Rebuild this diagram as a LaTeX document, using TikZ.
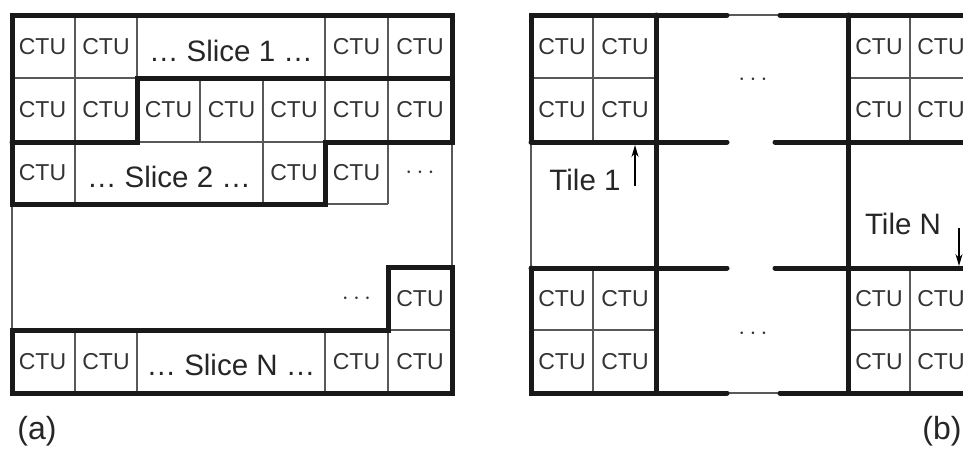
\documentclass[tikz,border=0pt]{standalone}
\usepackage{fontspec}
\setmainfont{Liberation Sans}
\usetikzlibrary{arrows.meta}

\begin{document}
\begin{tikzpicture}[>={Stealth[length=12pt, width=7pt]}, x=1pt, y=-1pt,
    cell/.style={line width=1.2pt, black!65},
    bound/.style={line width=5pt, line cap=round, black!90},
    ctu/.style={inner sep=0pt, text=black!80, font=\fontsize{23}{25}\selectfont},
    bigtext/.style={inner sep=0pt, text=black!85, font=\fontsize{29.5}{31}\selectfont},
    more/.style={inner sep=0pt, text=black!80, font=\fontsize{24}{26}\selectfont},
    panel/.style={inner sep=0pt, text=black!85, font=\fontsize{32}{34}\selectfont}]
    \useasboundingbox (0, 0) rectangle (963, 453);
    \clip (0, 0) rectangle (963, 453);

    % (a) slices
    \draw[cell] (75, 15) -- (75, 204) (137, 15) -- (137, 78) (200, 78) -- (200, 142)
        (263, 78) -- (263, 204) (325, 15) -- (325, 142) (388, 15) -- (388, 204);
    \draw[cell] (12, 78) -- (137, 78) (137, 142) -- (325, 142) (325, 204) -- (388, 204);
    \draw[cell] (12, 204) -- (12, 330) (452, 142) -- (452, 267) (388, 330) -- (452, 330);
    \draw[cell] (75, 330) -- (75, 393) (137, 330) -- (137, 393) (325, 330) -- (325, 393) (388, 330) -- (388, 393);
    \draw[bound] (12, 142) -- (12, 15) -- (452, 15) -- (452, 142) -- (325, 142) -- (325, 204) -- (12, 204) -- cycle;
    \draw[bound] (12, 142) -- (137, 142) -- (137, 78) -- (452, 78);
    \draw[bound] (12, 330) -- (388, 330) -- (388, 267) -- (452, 267) -- (452, 393) -- (12, 393) -- cycle;

    \foreach \x/\n in {42.5/1, 106/2, 356.5/6, 420/7}
        \node[ctu] (ra\n) at (\x, 47) {CTU};
    \node[bigtext] (slice1) at (231, 51) {… Slice 1 …};
    \foreach \x/\n in {42.5/1, 106/2, 168.5/3, 231.5/4, 294/5, 356.5/6, 420/7}
        \node[ctu] (rb\n) at (\x, 110) {CTU};
    \foreach \x/\n in {42.5/1, 294/5, 356.5/6}
        \node[ctu] (rc\n) at (\x, 173) {CTU};
    \node[bigtext] (slice2) at (169, 177) {… Slice 2 …};
    \node[more] (rcmore) at (420, 173) {$\cdots$};
    \node[more] (rdmore) at (356.5, 298.5) {$\cdots$};
    \node[ctu] (rd7) at (420, 298.5) {CTU};
    \foreach \x/\n in {42.5/1, 106/2, 356.5/6, 420/7}
        \node[ctu] (re\n) at (\x, 362) {CTU};
    \node[bigtext] (sliceN) at (231, 365) {… Slice N …};
    \node[panel] (pa) at (37, 431) {(a)};

    % (b) tiles
    \draw[cell] (593, 15) -- (593, 142) (593, 268) -- (593, 393) (910, 15) -- (910, 142) (910, 268) -- (910, 393);
    \draw[cell] (531, 78) -- (656, 78) (848, 78) -- (975, 78) (531, 330) -- (656, 330) (848, 330) -- (975, 330);
    \draw[cell] (531, 142) -- (531, 268) (727, 15) -- (780, 15) (727, 393) -- (780, 393);
    \draw[bound] (531, 142) -- (531, 15) -- (727, 15) (780, 15) -- (985, 15);
    \draw[bound] (531, 142) -- (727, 142) (775, 142) -- (985, 142);
    \draw[bound] (531, 268) -- (727, 268) (775, 268) -- (985, 268);
    \draw[bound] (531, 268) -- (531, 393) -- (727, 393) (780, 393) -- (985, 393);
    \draw[bound] (656, 15) -- (656, 393) (848, 15) -- (848, 393);

    \foreach \y/\m in {47/1, 110/2, 299/3, 362/4}
        \foreach \x/\n in {562/1, 625/2, 879/3, 941/4}
            \node[ctu] (t\m\n) at (\x, \y) {CTU};
    \node[more] (tmoreup) at (753, 80) {$\cdots$};
    \node[more] (tmoredown) at (753, 334) {$\cdots$};

    \node[bigtext] (tile1) at (585, 180) {Tile 1};
    \coordinate (tile1foot) at (635, 186);
    \coordinate (tile1tip) at (635, 145);
    \draw[->, line width=1.3pt] (tile1foot) -- (tile1tip);
    \node[bigtext] (tileN) at (903, 224) {Tile N};
    \coordinate (tileNfoot) at (959, 228);
    \coordinate (tileNtip) at (959, 266);
    \draw[->, line width=1.3pt] (tileNfoot) -- (tileNtip);
    \node[panel] (pb) at (942, 431) {(b)};
\end{tikzpicture}
\end{document}
